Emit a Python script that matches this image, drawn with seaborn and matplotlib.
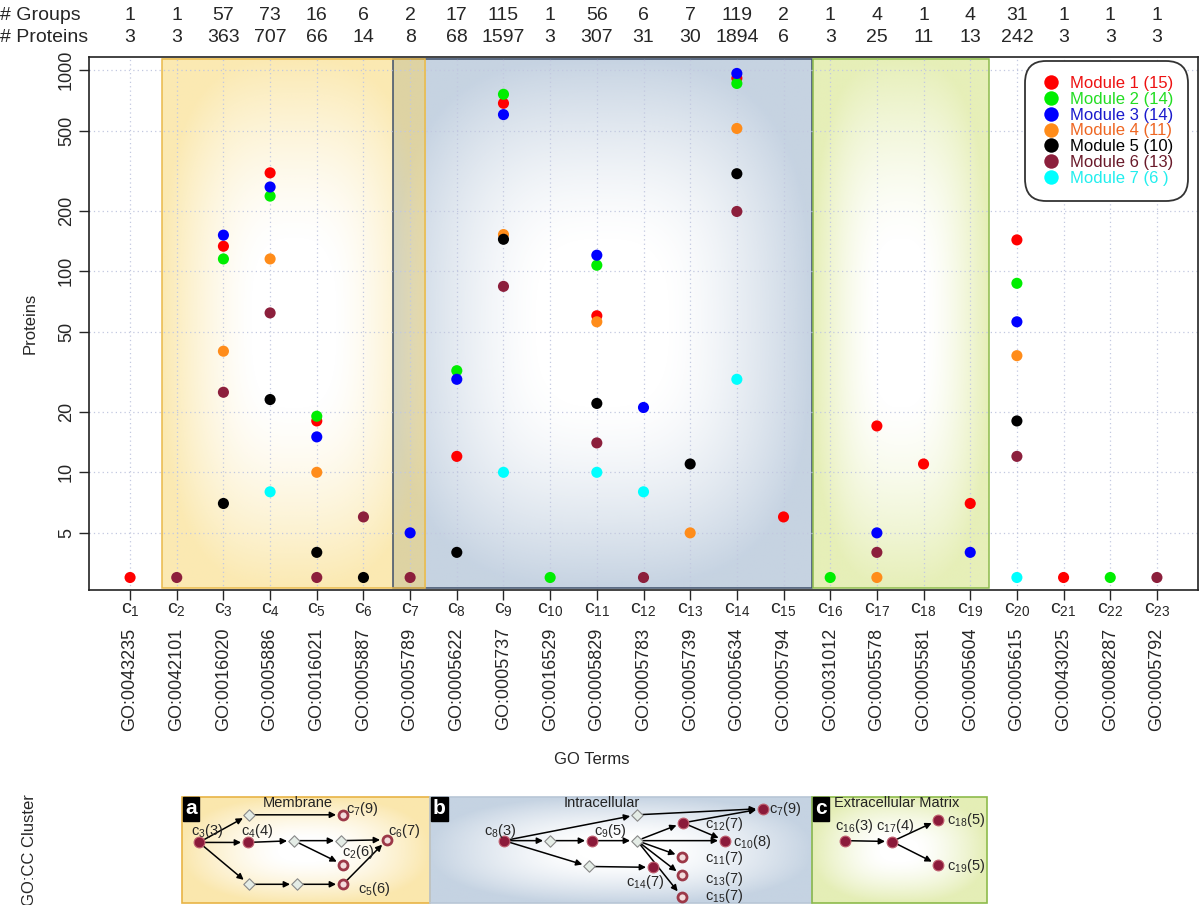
import numpy as np
import pandas as pd
import matplotlib
matplotlib.use("Agg")
import matplotlib.pyplot as plt
import matplotlib.colors as mcolors
from matplotlib.patches import Rectangle
from matplotlib.ticker import NullLocator
from matplotlib.transforms import blended_transform_factory
import seaborn as sns

# GO terms c1..c23
GO_IDS = ["GO:0043235", "GO:0042101", "GO:0016020", "GO:0005886", "GO:0016021", "GO:0005887",
          "GO:0005789", "GO:0005622", "GO:0005737", "GO:0016529", "GO:0005829", "GO:0005783",
          "GO:0005739", "GO:0005634", "GO:0005794", "GO:0031012", "GO:0005578", "GO:0005581",
          "GO:0005604", "GO:0005615", "GO:0043025", "GO:0008287", "GO:0005792"]
N_GROUPS = [1, 1, 57, 73, 16, 6, 2, 17, 115, 1, 56, 6, 7, 119, 2, 1, 4, 1, 4, 31, 1, 1, 1]
N_PROTEINS = [3, 3, 363, 707, 66, 14, 8, 68, 1597, 3, 307, 31, 30, 1894, 6, 3, 25, 11, 13, 242, 3, 3, 3]

MODULES = ["Module 1", "Module 2", "Module 3", "Module 4", "Module 5", "Module 6", "Module 7"]
MODULE_SIZES = ["15", "14", "14", "11", "10", "13", "6 "]

# proteins per GO term (term index -> count), one pair of lists per module
M1_TERMS = [1, 3, 4, 5, 8, 9, 11, 14, 15, 17, 18, 19, 20, 21]
M1_PROT = [3, 133, 308, 18, 12, 683, 60, 910, 6, 17, 11, 7, 143, 3]
M2_TERMS = [3, 4, 5, 8, 9, 10, 11, 14, 16, 20, 22]
M2_PROT = [115, 236, 19, 32, 757, 3, 107, 857, 3, 87, 3]
M3_TERMS = [3, 4, 5, 7, 8, 9, 11, 12, 14, 17, 19, 20]
M3_PROT = [151, 262, 15, 5, 29, 600, 120, 21, 961, 5, 4, 56]
M4_TERMS = [3, 4, 5, 9, 11, 13, 14, 17, 20]
M4_PROT = [40, 115, 10, 152, 56, 5, 512, 3, 38]
M5_TERMS = [3, 4, 5, 6, 8, 9, 11, 13, 14, 20]
M5_PROT = [7, 23, 4, 3, 4, 144, 22, 11, 305, 18]
M6_TERMS = [2, 3, 4, 5, 6, 7, 9, 11, 12, 14, 17, 20, 23]
M6_PROT = [3, 25, 62, 3, 6, 3, 84, 14, 3, 198, 4, 12, 3]
M7_TERMS = [4, 9, 11, 12, 14, 20]
M7_PROT = [8, 10, 10, 8, 29, 3]

POINT_COLORS = ["#ff0000", "#00ee00", "#0000ff", "#ff8c1a", "#000000", "#8c1f3c", "#00ffff"]
TEXT_COLORS = ["#ee1111", "#22dd22", "#1a1acc", "#ee6622", "#000000", "#6a1a2a", "#22eeee"]

# GO:CC cluster diagrams (layout in figure pixels)
NODES = {
    "a3": (199, 835, "fill", "c$_3$(3)", (207, 822)),
    "a4": (248, 835, "fill", "c$_4$(4)", (257, 822)),
    "a7": (343, 804, "ring", "c$_7$(9)", (362, 797)),
    "a6": (387, 832, "ring", "c$_6$(7)", (404, 822)),
    "a2": (343, 860, "ring", "c$_2$(6)", (358, 846)),
    "a5": (343, 882, "ring", "c$_5$(6)", (374, 887)),
    "ad1": (249, 804, "dia", None, None),
    "ad2": (294, 833, "dia", None, None),
    "ad3": (341, 833, "dia", None, None),
    "ad4": (249, 882, "dia", None, None),
    "ad5": (297, 882, "dia", None, None),
    "b8": (504, 833, "fill", "c$_8$(3)", (500, 822)),
    "b7": (763, 797, "fill", "c$_7$(9)", (785, 797)),
    "b9": (592, 833, "fill", "c$_9$(5)", (610, 822)),
    "b12": (683, 813, "fill", "c$_{12}$(7)", (724, 814)),
    "b10": (725, 833, "fill", "c$_{10}$(8)", (752, 835)),
    "b11": (682, 851, "ring", "c$_{11}$(7)", (724, 853)),
    "b13": (682, 872, "ring", "c$_{13}$(7)", (724, 876)),
    "b15": (682, 896, "ring", "c$_{15}$(7)", (724, 895)),
    "b14": (653, 863, "fill", "c$_{14}$(7)", (645, 879)),
    "bd1": (637, 804, "dia", None, None),
    "bd2": (550, 833, "dia", None, None),
    "bd3": (637, 833, "dia", None, None),
    "bd4": (589, 862, "dia", None, None),
    "c16": (845, 833, "fill", "c$_{16}$(3)", (854, 817)),
    "c17": (892, 834, "fill", "c$_{17}$(4)", (895, 817)),
    "c18": (938, 810, "fill", "c$_{18}$(5)", (966, 810)),
    "c19": (938, 860, "fill", "c$_{19}$(5)", (966, 862)),
}
EDGES = [("a3", "ad1"), ("ad1", "a7"), ("a3", "a4"), ("a4", "ad2"), ("ad2", "ad3"), ("ad3", "a6"),
         ("ad2", "a2"), ("a3", "ad4"), ("ad4", "ad5"), ("ad5", "a5"), ("a5", "a6"),
         ("b8", "bd1"), ("bd1", "b7"), ("b8", "bd2"), ("bd2", "b9"), ("b9", "bd3"), ("bd3", "b12"),
         ("b12", "b7"), ("b12", "b10"), ("bd3", "b10"), ("bd3", "b11"), ("bd3", "b13"), ("bd3", "b15"),
         ("b8", "bd4"), ("bd4", "b14"),
         ("c16", "c17"), ("c17", "c18"), ("c17", "c19")]
PANELS = [("a", "Membrane", 182, 430, "#f6cf5c", 0.5, "#e8b446", 298),
          ("b", "Intracellular", 430, 812, "#9fb6cf", 0.6, "#b8c6d6", 602),
          ("c", "Extracellular Matrix", 812, 987, "#cfe07a", 0.55, "#8dbb4c", 897)]


def edge_fade(color, amax, nx=200, ny=200, p=3.0, inner=0.3, gamma=1.4):
    u = np.linspace(-1, 1, nx)
    v = np.linspace(-1, 1, ny)
    U, V = np.meshgrid(u, v)
    d = (np.abs(U) ** p + np.abs(V) ** p) ** (1 / p)
    img = np.zeros((ny, nx, 4))
    img[..., :3] = mcolors.to_rgb(color)
    img[..., 3] = np.clip((d - inner) / (1 - inner), 0, 1) ** gamma * amax
    return img


sns.set_style("white")
plt.rcParams["font.family"] = ["Liberation Sans", "DejaVu Sans"]
plt.rcParams["mathtext.fontset"] = "custom"
plt.rcParams["mathtext.rm"] = "Liberation Sans"
plt.rcParams["mathtext.it"] = "Liberation Sans:italic"

rows = []
all_terms = [M1_TERMS, M2_TERMS, M3_TERMS, M4_TERMS, M5_TERMS, M6_TERMS, M7_TERMS]
all_prot = [M1_PROT, M2_PROT, M3_PROT, M4_PROT, M5_PROT, M6_PROT, M7_PROT]
for name, terms, prots in zip(MODULES, all_terms, all_prot):
    for t, p in zip(terms, prots):
        rows.append({"term": t, "proteins": p, "module": name})
df = pd.DataFrame(rows)

W, H = 1200, 905
fig = plt.figure(figsize=(W / 100, H / 100), dpi=100)
L, R, T, B = 89, 1198, 57, 590
rect = [L / W, 1 - B / H, (R - L) / W, (B - T) / H]
XLIM = (0.12, 23.88)

# background shading behind the scatter
ax_bg = fig.add_axes(rect, zorder=0)
ax_bg.set_xlim(XLIM)
ax_bg.set_ylim(0, 1)
ax_bg.axis("off")
for x0, x1, col, amax, edge in [(6.63, 15.6, "#a3b8d0", 0.62, "#3d4f6a"),
                                (1.685, 7.32, "#f7d466", 0.5, "#e9b94a"),
                                (15.63, 19.4, "#d2e27e", 0.55, "#8dbb4c")]:
    ax_bg.imshow(edge_fade(col, amax), extent=(x0, x1, 0.003, 0.997), aspect="auto",
                 interpolation="bilinear")
    ax_bg.add_patch(Rectangle((x0, 0.003), x1 - x0, 0.994, fill=False, ec=edge, lw=1.1))
ax_bg.set_xlim(XLIM)
ax_bg.set_ylim(0, 1)

ax = fig.add_axes(rect, zorder=1)
ax.patch.set_alpha(0)
sns.scatterplot(data=df, x="term", y="proteins", hue="module", hue_order=MODULES,
                palette=POINT_COLORS, s=64, linewidth=0, ax=ax, zorder=3)
ax.set_yscale("log")
ax.set_xlim(XLIM)
ax.set_ylim(2.6, 1160)
ax.set_yticks([5, 10, 20, 50, 100, 200, 500, 1000])
ax.set_yticklabels(["5", "10", "20", "50", "100", "200", "500", "1000"], rotation=90, va="center")
ax.yaxis.set_minor_locator(NullLocator())
ax.set_xticks(range(1, 24))
ax.set_xticklabels(GO_IDS, rotation=90, fontsize=13)
ax.tick_params(axis="x", length=7, width=1, pad=20, direction="out", bottom=True)
ax.tick_params(axis="y", length=7, width=1, pad=3, labelsize=13, direction="out", left=True)
ax.grid(True, linestyle=(0, (1, 2.5)), color="#c2c8e0", lw=0.9)
ax.set_axisbelow(True)
for sp in ax.spines.values():
    sp.set_visible(True)
    sp.set_color("#222222")
    sp.set_linewidth(1.2)
ax.set_xlabel("")
ax.set_ylabel("")

for i in range(len(GO_IDS)):
    ax.annotate("c$_{%d}$" % (i + 1), xy=(i + 1, 0), xycoords=("data", "axes fraction"),
                xytext=(0, -8), textcoords="offset points", ha="center", va="top", fontsize=14)

# header rows
trans = blended_transform_factory(ax.transData, fig.transFigure)
for i in range(len(GO_IDS)):
    ax.text(i + 1, 1 - 15 / H, str(N_GROUPS[i]), transform=trans, ha="center", va="center", fontsize=14)
    ax.text(i + 1, 1 - 38 / H, str(N_PROTEINS[i]), transform=trans, ha="center", va="center", fontsize=14)
fig.text(0.0, 1 - 15 / H, "# Groups", ha="left", va="center", fontsize=14)
fig.text(0.0, 1 - 38 / H, "# Proteins", ha="left", va="center", fontsize=14)

fig.text(30 / W, 1 - 323 / H, "Proteins", rotation=90, ha="center", va="center", fontsize=12)
fig.text(592 / W, 1 - 760 / H, "GO Terms", ha="center", va="center", fontsize=12)
fig.text(30 / W, 1 - 850 / H, "GO:CC Cluster", rotation=90, ha="center", va="center", fontsize=12)

# legend
handles, _ = ax.get_legend_handles_labels()
if ax.get_legend() is not None:
    ax.get_legend().remove()
labels = ["%s (%s)" % (m, n) for m, n in zip(MODULES, MODULE_SIZES)]
leg = ax.legend(handles, labels, loc="upper right", bbox_to_anchor=(1188 / W, 1 - 61 / H),
                bbox_transform=fig.transFigure, borderaxespad=0, fontsize=12, labelspacing=0.05,
                handletextpad=0.4, borderpad=0.9, handlelength=1.4, markerscale=1.3,
                frameon=True, fancybox=True, framealpha=1)
leg.get_frame().set_boxstyle("round", pad=0, rounding_size=1.3)
leg.get_frame().set_edgecolor("#333333")
leg.get_frame().set_linewidth(1.3)
for txt, c in zip(leg.get_texts(), TEXT_COLORS):
    txt.set_color(c)

# GO:CC cluster diagrams, squeezed into the panel box below the x labels
ax_n = fig.add_axes([170 / W, 0, 860 / W, 125 / H])
ax_n.axis("off")
PT, PB = 797, 903
SQ = (PB - PT) / (PB - 784)


def sy(y):
    return PB - (PB - y) * SQ


for letter, title, x0, x1, col, amax, edge, tx in PANELS:
    ax_n.imshow(edge_fade(col, amax, p=2.5, inner=0.2), extent=(x0, x1, PB, PT), aspect="auto",
                interpolation="bilinear")
    ax_n.add_patch(Rectangle((x0, PT), x1 - x0, PB - PT, fill=False, ec=edge, lw=1.2))
    ax_n.text(x0 + 3, PT + 2, letter, color="white", fontweight="bold", fontsize=15, ha="left", va="top",
              bbox=dict(boxstyle="square,pad=0.12", fc="black", ec="black"))
    ax_n.text(tx, PT + 6, title, ha="center", va="center", fontsize=10.5, color="#222222")
ax_n.set_xlim(170, 1030)
ax_n.set_ylim(905, 780)

for a, b in EDGES:
    xa, ya = NODES[a][:2]
    xb, yb = NODES[b][:2]
    ax_n.annotate("", xy=(xb, sy(yb)), xytext=(xa, sy(ya)),
                  arrowprops=dict(arrowstyle="-|>", color="black", lw=1.1, shrinkA=4, shrinkB=5,
                                  mutation_scale=9))
for key, (x, y, kind, lab, lpos) in NODES.items():
    if kind == "fill":
        ax_n.scatter([x], [sy(y)], s=60, c="#8b1a3a", edgecolors="#c06070", linewidths=0.8, zorder=4)
    elif kind == "ring":
        ax_n.scatter([x], [sy(y)], s=42, c="#f3dcdc", edgecolors="#9c3848", linewidths=2, zorder=4)
    else:
        ax_n.scatter([x], [sy(y)], s=34, marker="D", c="#e4ece6", edgecolors="#888888", linewidths=0.8, zorder=4)
    if lab:
        ax_n.text(lpos[0], sy(lpos[1]), lab, ha="center", va="center", fontsize=10.5, zorder=5)

fig.savefig("out.png", dpi=100)
